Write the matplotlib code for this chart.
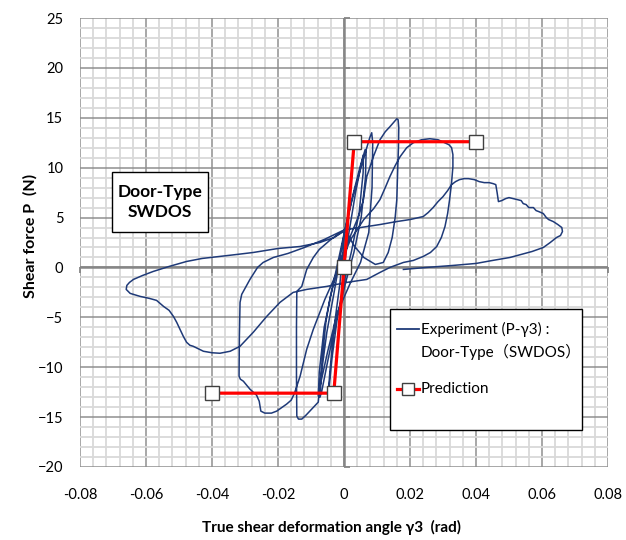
import matplotlib
matplotlib.use("Agg")
import matplotlib.pyplot as plt
from matplotlib.patches import Rectangle
from matplotlib.lines import Line2D
from matplotlib.ticker import MultipleLocator

FONT = ["Lato", "DejaVu Sans", "Noto Sans CJK JP"]
plt.rcParams["font.family"] = FONT

# Measured hysteresis: true shear deformation angle (rad) vs shear force (N)
exp_x = [
    # small cycles
    0.0000, 0.0015, 0.0035, 0.0050, 0.0059, 0.0058, 0.0046, 0.0022, 0.0000, -0.0020,
    -0.0036, -0.0045, -0.0048, -0.0043, -0.0030, -0.0012, 0.0003,
    0.0025, 0.0048, 0.0064, 0.0067, 0.0065, 0.0052, 0.0030, 0.0005, -0.0025,
    -0.0050, -0.0068, -0.0073, -0.0068, -0.0052, -0.0030, 0.0003,
    0.0030, 0.0060, 0.0078, 0.0084, 0.0087, 0.0085, 0.0075, 0.0050, 0.0020, -0.0020,
    -0.0050, -0.0070, -0.0078, -0.0075, -0.0060, -0.0035, 0.0003,
    # third cycle
    -0.0040, -0.0075, -0.0093, -0.0113, -0.0128, -0.0143, -0.0144, -0.0144, -0.0143,
    -0.0138, -0.0128, -0.0115, -0.0095, -0.0078, -0.0072, -0.0064, -0.0055, -0.0042,
    -0.0025, -0.0005, 0.0020, 0.0045, 0.0059, 0.0069, 0.0089, 0.0109, 0.0125, 0.0139,
    0.0152, 0.0160, 0.0164, 0.0166, 0.0165, 0.0163, 0.0160, 0.0155, 0.0146, 0.0134,
    0.0119, 0.0095, 0.0060, 0.0030, 0.0003,
    # fourth cycle
    -0.0060, -0.0120, -0.0170, -0.0214, -0.0245, -0.0262, -0.0285, -0.0310, -0.0315,
    -0.0317, -0.0318, -0.0314, -0.0305, -0.0285, -0.0265, -0.0257, -0.0252, -0.0240,
    -0.0220, -0.0204, -0.0174, -0.0160, -0.0150, -0.0133, -0.0113, -0.0093, -0.0073,
    -0.0058, -0.0035, -0.0010, 0.0020, 0.0060, 0.0090, 0.0109, 0.0125, 0.0139, 0.0155,
    0.0170, 0.0190, 0.0210, 0.0235, 0.0260, 0.0285, 0.0305, 0.0318, 0.0326, 0.0330,
    0.0330, 0.0326, 0.0320, 0.0314, 0.0306, 0.0295, 0.0281, 0.0262, 0.0240, 0.0210,
    0.0180, 0.0139, 0.0109,
    # large negative excursion
    0.0069, 0.0008, -0.0052, -0.0113, -0.0154, -0.0194, -0.0234, -0.0275, -0.0315,
    -0.0345, -0.0376, -0.0400, -0.0426, -0.0445, -0.0457, -0.0467, -0.0477, -0.0487,
    -0.0497, -0.0507, -0.0517, -0.0530, -0.0547, -0.0568, -0.0590, -0.0618, -0.0648,
    -0.0660, -0.0658, -0.0650, -0.0638, -0.0610, -0.0578, -0.0530, -0.0477, -0.0430,
    -0.0376, -0.0325, -0.0275, -0.0200, -0.0133, -0.0073, -0.0030, 0.0008,
    # large positive excursion
    0.0050, 0.0109, 0.0160, 0.0200, 0.0240, 0.0255, 0.0270, 0.0285, 0.0300, 0.0314,
    0.0326, 0.0338, 0.0350, 0.0364, 0.0377, 0.0395, 0.0410, 0.0425, 0.0440, 0.0452,
    0.0460, 0.0464, 0.0468, 0.0478, 0.0490, 0.0500, 0.0513, 0.0525, 0.0537, 0.0543,
    0.0552, 0.0560, 0.0574, 0.0582, 0.0590, 0.0604, 0.0613, 0.0620, 0.0634, 0.0648,
    0.0660, 0.0662, 0.0656, 0.0644, 0.0625, 0.0604, 0.0570, 0.0537, 0.0503, 0.0450,
    0.0400, 0.0330, 0.0250, 0.0180,
]
exp_y = [
    # small cycles
    0.0, 3.5, 7.5, 10.0, 11.3, 9.5, 5.5, 1.5, -1.5, -5.0,
    -9.0, -12.0, -12.9, -10.5, -6.0, -1.5, 3.8,
    7.0, 10.0, 11.8, 11.6, 9.0, 5.0, 1.5, -1.5, -5.5,
    -9.5, -12.5, -13.0, -10.5, -6.5, -2.5, 3.8,
    7.5, 11.0, 13.0, 13.5, 12.5, 8.0, 3.5, 0.5, -1.5, -4.5,
    -8.5, -11.5, -12.9, -10.5, -6.0, -2.0, 3.8,
    # third cycle
    2.8, 1.8, 1.0, -0.2, -1.9, -2.4, -6.0, -11.0, -14.9,
    -15.2, -15.2, -14.8, -14.1, -13.5, -11.5, -8.5, -5.5, -3.0,
    -0.8, 1.2, 3.2, 5.2, 6.8, 9.1, 11.1, 12.8, 13.6, 14.1,
    14.6, 14.9, 14.8, 14.0, 12.0, 10.1, 6.8, 5.0, 3.0, 1.5,
    0.5, 0.3, 1.0, 2.2, 3.8,
    # fourth cycle
    2.8, 2.0, 1.4, 1.0, 0.5, 0.0, -1.2, -2.7, -3.5,
    -6.9, -10.9, -11.2, -11.4, -12.2, -12.8, -13.4, -14.4, -14.6,
    -14.6, -14.4, -13.7, -13.3, -12.6, -10.9, -8.2, -6.2, -4.5,
    -3.2, -1.5, 0.5, 2.8, 4.8, 5.9, 6.8, 8.0, 9.1, 10.2,
    11.1, 12.0, 12.5, 12.8, 12.9, 12.8, 12.5, 12.3, 12.0, 11.3,
    10.1, 8.5, 6.8, 5.4, 4.1, 3.0, 2.1, 1.5, 1.1, 0.7,
    0.5, 0.0, -0.5,
    # large negative excursion
    -1.2, -1.5, -1.9, -2.2, -2.5, -3.5, -4.9, -6.5, -7.9,
    -8.4, -8.6, -8.55, -8.4, -8.1, -7.9, -7.8, -7.5, -6.9,
    -6.2, -5.5, -4.9, -4.3, -3.9, -3.3, -3.1, -2.9, -2.6,
    -2.2, -1.8, -1.5, -1.2, -0.8, -0.4, 0.1, 0.6, 0.9,
    1.1, 1.3, 1.5, 1.9, 2.1, 2.5, 3.0, 3.8,
    # large positive excursion
    4.0, 4.3, 4.6, 4.8, 5.1, 5.5, 6.0, 6.6, 7.1, 7.7,
    8.3, 8.6, 8.8, 8.9, 8.9, 8.8, 8.6, 8.5, 8.5, 8.4,
    8.3, 7.5, 6.6, 6.7, 6.9, 7.0, 6.9, 6.8, 6.7, 6.4,
    6.3, 6.0, 6.0, 5.7, 5.6, 5.4, 5.0, 4.8, 4.6, 4.3,
    4.0, 3.6, 3.2, 3.0, 2.5, 2.0, 1.6, 1.3, 1.0, 0.7,
    0.4, 0.2, 0.0, -0.2,
]

# Predicted skeleton curve
pred_x = [-0.040, -0.0031, 0.0, 0.0031, 0.040]
pred_y = [-12.6, -12.6, 0.0, 12.6, 12.6]

x_ticks = [-0.08, -0.06, -0.04, -0.02, 0.0, 0.02, 0.04, 0.06, 0.08]
x_ticklabels = ["-0.08", "-0.06", "-0.04", "-0.02", "0", "0.02", "0.04", "0.06", "0.08"]
y_ticks = [-20, -15, -10, -5, 0, 5, 10, 15, 20, 25]

W, H = 626, 540
fig = plt.figure(figsize=(W / 100, H / 100), dpi=100)
ax = fig.add_axes([80 / W, (H - 467) / H, 528 / W, 449 / H])

ax.set_xlim(-0.08, 0.08)
ax.set_ylim(-20, 25)
ax.set_xticks(x_ticks)
ax.set_xticklabels(x_ticklabels)
ax.set_yticks(y_ticks)
ax.xaxis.set_minor_locator(MultipleLocator(0.004))
ax.yaxis.set_minor_locator(MultipleLocator(1))
ax.grid(which="minor", color="#d9d9d9", linewidth=1.3, zorder=0)
ax.grid(which="major", color="#8f8f8f", linewidth=1.1, zorder=0)
ax.set_axisbelow(True)
for s in ax.spines.values():
    s.set_visible(False)
ax.tick_params(which="both", length=0)
ax.tick_params(axis="x", pad=15, labelsize=10.5)
ax.tick_params(axis="y", pad=12, labelsize=10.5)

# Axes through the origin with small tick marks
ax.axhline(0, color="#868686", linewidth=1.8, zorder=1)
ax.axvline(0, color="#868686", linewidth=1.8, zorder=1)
ax.plot(x_ticks, [0] * len(x_ticks), linestyle="none", marker=3, markersize=4,
        markeredgewidth=1.3, color="#868686", zorder=1, clip_on=False)
ax.plot([0] * len(y_ticks), y_ticks, linestyle="none", marker=1, markersize=4,
        markeredgewidth=1.3, color="#868686", zorder=1, clip_on=False)

ax.plot(exp_x, exp_y, color="#1f3a78", linewidth=1.1, zorder=3)
ax.plot(pred_x, pred_y, color="#ff0000", linewidth=2.3, marker="s", markersize=10,
        markerfacecolor="white", markeredgecolor="#404040", markeredgewidth=1.0, zorder=4)

# Specimen label box
ax.add_patch(Rectangle((0.0606, 0.523), 0.1818, 0.134, transform=ax.transAxes,
                       facecolor="white", edgecolor="black", linewidth=1.0, zorder=5))
ax.text(0.1515, 0.59, "Door-Type\nSWDOS", transform=ax.transAxes, ha="center", va="center",
        fontsize=12.5, fontweight="bold", linespacing=1.35, zorder=6)

# Legend
ax.add_patch(Rectangle((0.587, 0.0824), 0.364, 0.2696, transform=ax.transAxes,
                       facecolor="white", edgecolor="black", linewidth=1.0, zorder=5))
ax.add_line(Line2D([0.600, 0.642], [0.307, 0.307], transform=ax.transAxes,
                   color="#1f3a78", linewidth=1.3, zorder=6))
ax.text(0.646, 0.307, "Experiment (P-γ3) :", transform=ax.transAxes, ha="left",
        va="center", fontsize=11, zorder=6)
ax.text(0.646, 0.256, "Door-Type（SWDOS）", transform=ax.transAxes, ha="left",
        va="center", fontsize=11, zorder=6)
ax.add_line(Line2D([0.600, 0.642], [0.174, 0.174], transform=ax.transAxes,
                   color="#ff0000", linewidth=2.3, zorder=6))
ax.add_line(Line2D([0.621], [0.174], transform=ax.transAxes, marker="s", markersize=9,
                   markerfacecolor="white", markeredgecolor="#404040", markeredgewidth=1.0,
                   zorder=7))
ax.text(0.646, 0.174, "Prediction", transform=ax.transAxes, ha="left",
        va="center", fontsize=11, zorder=6)

fig.text(331 / W, 1 - 527 / H, "True shear deformation angle γ3  (rad)", ha="center",
         va="center", fontsize=11, fontweight="bold")
fig.text(30 / W, 1 - 236 / H, "Shear force P  (N)", ha="center", va="center",
         rotation=90, fontsize=11.5, fontweight="bold")

fig.savefig("out.png", dpi=100)
